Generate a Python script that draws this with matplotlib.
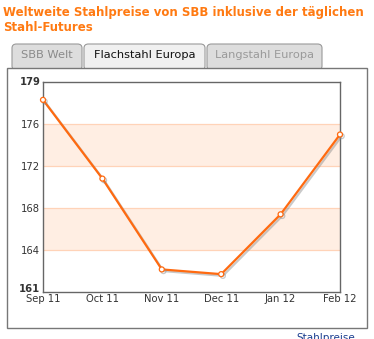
import matplotlib
matplotlib.use("Agg")
import matplotlib.pyplot as plt
import matplotlib.patheffects as pe
import matplotlib.transforms as mtrans
from matplotlib.patches import FancyBboxPatch, Rectangle

# Monthly flat steel price index, Europe
months = ["Sep 11", "Oct 11", "Nov 11", "Dec 11", "Jan 12", "Feb 12"]
prices = [178.3, 170.8, 162.15, 161.7, 167.4, 175.0]

y_ticks = [160, 164, 168, 172, 176, 180]
y_tick_labels = ["161", "164", "168", "172", "176", "179"]
bands = [(164, 168), (172, 176)]

tabs = ["SBB Welt", "Flachstahl Europa", "Langstahl Europa"]
title = "Weltweite Stahlpreise von SBB inklusive der täglichen\nStahl-Futures"

W, H = 374, 339
fig = plt.figure(figsize=(W / 100, H / 100), dpi=100)
fig.patch.set_facecolor("white")

def px(x, y):
    return x / W, 1 - y / H

orange = "#ff7a12"

# Heading
fig.text(*px(3, 6), title, ha="left", va="top", color=orange,
         fontsize=8.45, fontweight="bold", family="DejaVu Sans", linespacing=1.22)

# Tabs
tab_boxes = [(12, 82, "#dddddd", "#8a8a8a"), (84, 205, "#f0f0f0", "#111111"),
             (207, 322, "#dddddd", "#9a9a9a")]
for (x0, x1, fc, tc), name in zip(tab_boxes, tabs):
    x, y = px(x0, 70)
    w = (x1 - x0) / W
    h = 26 / H
    fig.patches.append(FancyBboxPatch((x, y), w, h, boxstyle="round,pad=0,rounding_size=0.012",
                                      transform=fig.transFigure, facecolor=fc,
                                      edgecolor="#9a9a9a", linewidth=0.8, zorder=1))
    fig.text((x0 + x1) / 2 / W, 1 - 55.5 / H, name, ha="center", va="center",
             fontsize=8.2, color=tc, family="DejaVu Sans", zorder=3)

# Panel frame
fx, fy = px(7, 328)
fig.patches.append(Rectangle((fx, fy), (367 - 7) / W, (328 - 67.5) / H,
                             transform=fig.transFigure, facecolor="white",
                             edgecolor="#777777", linewidth=1.0, zorder=2))

# Chart
ax = fig.add_axes([43 / W, 1 - 292 / H, 297 / W, 210 / H], zorder=5)
ax.set_facecolor("white")
x = list(range(len(months)))
for lo, hi in bands:
    ax.axhspan(lo, hi, facecolor="#ffeee3", edgecolor="none", zorder=0)
for t in y_ticks[1:-1]:
    ax.axhline(t, color="#ffd3b8", linewidth=0.9, zorder=1)

ax.plot(x, prices, color="#ff6a10", linewidth=1.6, marker="o", markersize=3.6,
        markerfacecolor="white", markeredgecolor="#ff6a10", markeredgewidth=0.9,
        zorder=3, clip_on=False,
        path_effects=[pe.SimpleLineShadow(offset=(1.2, -1.2), shadow_color="#888888", alpha=0.45),
                      pe.Normal()])

ax.set_xlim(0, len(months) - 1)
ax.set_ylim(y_ticks[0], y_ticks[-1])
ax.set_xticks(x)
ax.set_xticklabels(months)
ax.set_yticks(y_ticks)
ax.set_yticklabels(y_tick_labels)
ax.tick_params(axis="both", length=0, labelsize=7.2, colors="#333333", pad=2)
ax.tick_params(axis="x", pad=1.5)
ylabels = ax.get_yticklabels()
ylabels[0].set_fontweight("bold")
ylabels[-1].set_fontweight("bold")
# end labels sit slightly inside the range
ylabels[0].set_transform(ylabels[0].get_transform() +
                         mtrans.ScaledTranslation(0, 3 / 72, fig.dpi_scale_trans))
ylabels[-1].set_transform(ylabels[-1].get_transform() +
                          mtrans.ScaledTranslation(0, 1 / 72, fig.dpi_scale_trans))
for s in ax.spines.values():
    s.set_color("#666666")
    s.set_linewidth(1.0)

# Link text below the panel
fig.text(*px(296, 333), "Stahlpreise", ha="left", va="top", fontsize=7.5,
         color="#1a3d8f", family="DejaVu Sans")

fig.savefig("out.png", dpi=100, facecolor="white")
